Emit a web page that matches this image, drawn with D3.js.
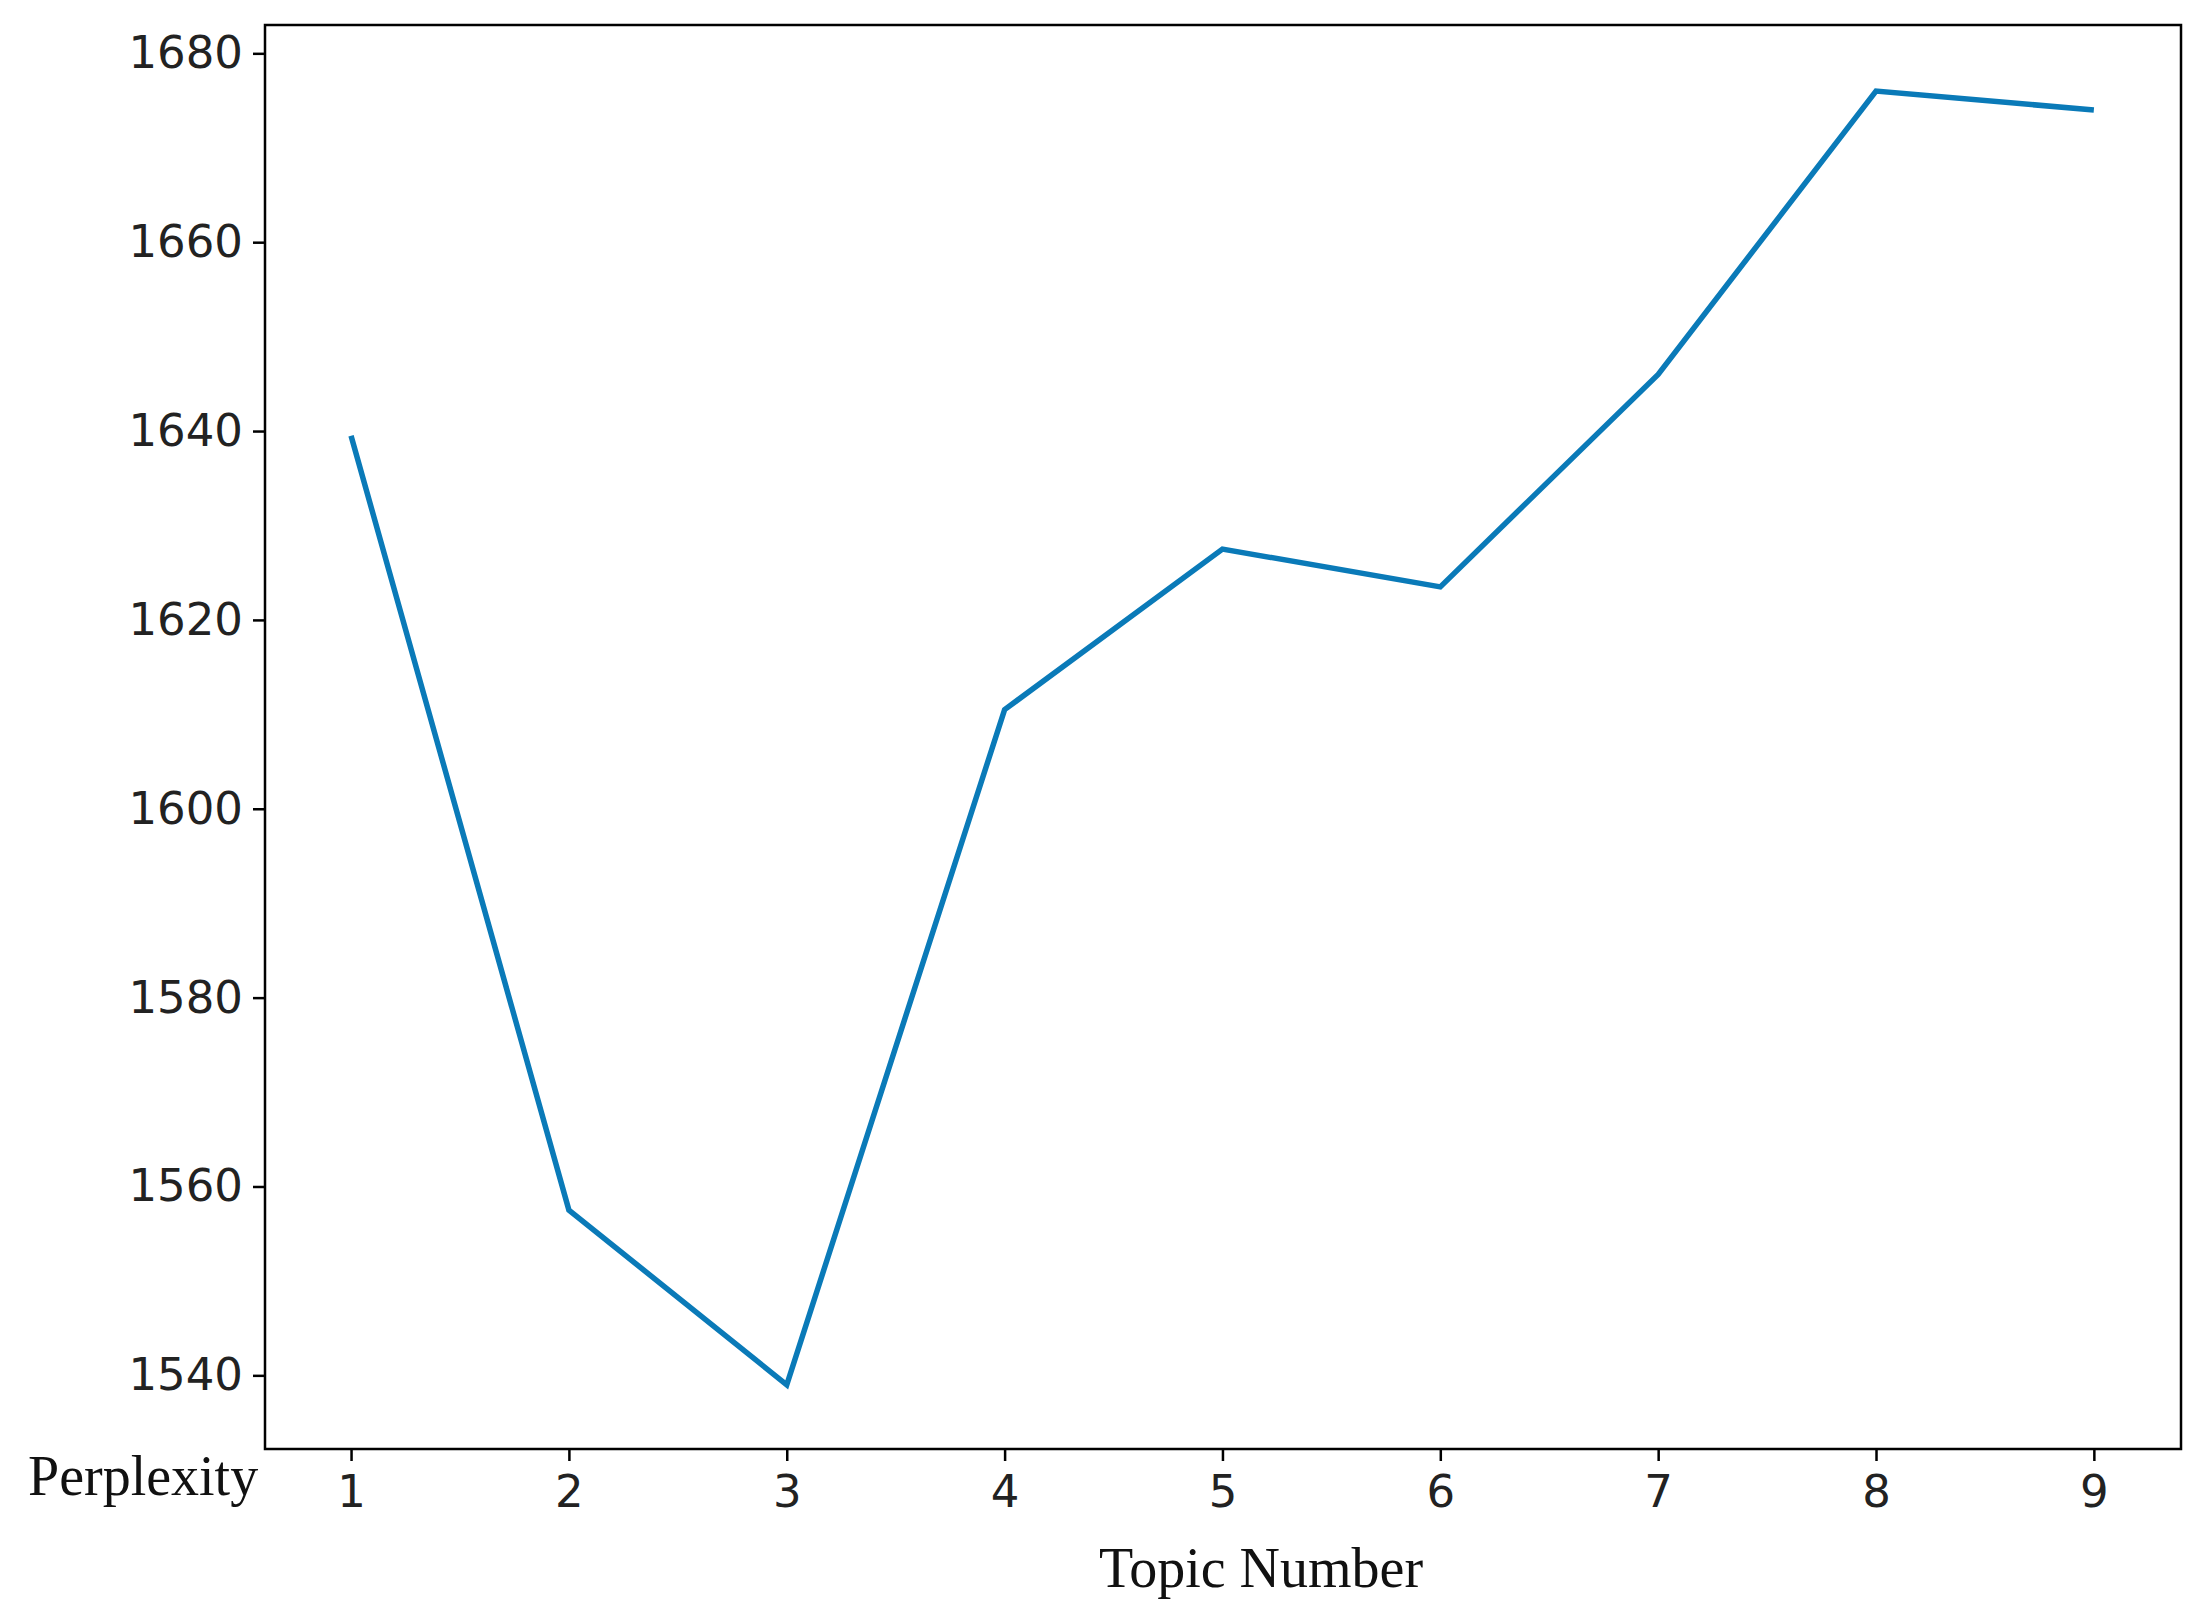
<!DOCTYPE html>
<html>
<head>
<meta charset="utf-8">
<script src="https://cdn.jsdelivr.net/npm/d3@7"></script>
<style>
  body { margin: 0; background: #fff; }
</style>
</head>
<body>
<div id="chart"></div>
<script>
const topics = [1, 2, 3, 4, 5, 6, 7, 8, 9];
const perplexity = [1639.5, 1557.5, 1539, 1610.5, 1627.5, 1623.5, 1646, 1676, 1674];
const yTicks = [1540, 1560, 1580, 1600, 1620, 1640, 1660, 1680];

const width = 2202, height = 1616;
const plotLeft = 265, plotRight = 2181, plotTop = 25, plotBottom = 1449;

const svg = d3.select("#chart").append("svg")
    .attr("width", width)
    .attr("height", height);

const x = d3.scaleLinear().domain([0.605, 9.40]).range([plotLeft, plotRight]);
const y = d3.scaleLinear().domain([1532.2, 1683]).range([plotBottom, plotTop]);

// frame
svg.append("rect")
    .attr("x", plotLeft).attr("y", plotTop)
    .attr("width", plotRight - plotLeft).attr("height", plotBottom - plotTop)
    .attr("fill", "none").attr("stroke", "#000").attr("stroke-width", 2.5);

const yAxis = svg.append("g")
    .attr("transform", `translate(${plotLeft},0)`)
    .call(d3.axisLeft(y).tickValues(yTicks).tickSize(12).tickPadding(10).tickFormat(d3.format("d")));
yAxis.select(".domain").remove();
yAxis.selectAll("text").attr("font-family", "DejaVu Sans").attr("font-size", 45).attr("fill", "#222");
yAxis.selectAll("line").attr("stroke-width", 2.5);

const xAxis = svg.append("g")
    .attr("transform", `translate(0,${plotBottom})`)
    .call(d3.axisBottom(x).tickValues(topics).tickSize(12).tickPadding(14).tickFormat(d3.format("d")));
xAxis.select(".domain").remove();
xAxis.selectAll("text").attr("font-family", "DejaVu Sans").attr("font-size", 45).attr("fill", "#222");
xAxis.selectAll("line").attr("stroke-width", 2.5);

const line = d3.line()
    .x((d, i) => x(topics[i]))
    .y(d => y(d));

svg.append("path")
    .datum(perplexity)
    .attr("d", line)
    .attr("fill", "none")
    .attr("stroke", "#0a7ab8")
    .attr("stroke-width", 5.5);

svg.append("text")
    .attr("x", 28).attr("y", 1495)
    .attr("font-family", "Liberation Serif, serif")
    .attr("font-size", 56)
    .attr("fill", "#111")
    .text("Perplexity");

svg.append("text")
    .attr("x", 1261).attr("y", 1587)
    .attr("text-anchor", "middle")
    .attr("font-family", "Liberation Serif, serif")
    .attr("font-size", 56)
    .attr("fill", "#111")
    .text("Topic Number");
</script>
</body>
</html>
